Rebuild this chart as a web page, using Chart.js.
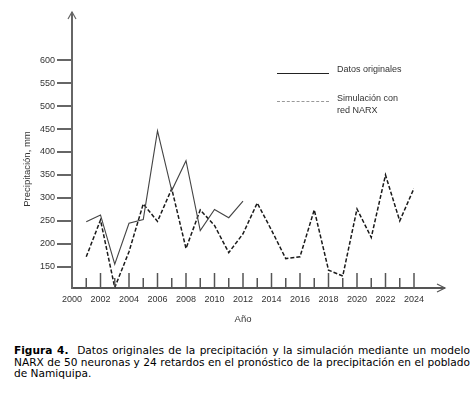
<!DOCTYPE html>
<html>
<head>
<meta charset="utf-8">
<script src="https://cdn.jsdelivr.net/npm/chart.js@4/dist/chart.umd.min.js"></script>
<style>
  body { margin: 0; background: #fff; }
  #wrap { position: relative; width: 474px; height: 395px; }
  #box { position: absolute; left: 0; top: 0; width: 474px; height: 330px; }
  .leg { position: absolute; font: 9px "Liberation Sans", Arial, sans-serif; color: #333; line-height: 11.5px; }
  .sample { position: absolute; width: 52px; height: 0; }
  #caption { position: absolute; left: 14px; top: 345px; width: 456px;
    font: 10.6px "DejaVu Sans", sans-serif; line-height: 11.7px; color: #000; }
  #caption div.j { text-align: justify; text-align-last: justify; white-space: nowrap; }
</style>
</head>
<body>
<div id="wrap">
  <div id="box"><canvas id="precipChart"></canvas></div>
  <div class="sample" style="left:277px; top:73px; border-top:1px solid #222;"></div>
  <div class="leg" id="leg1" style="left:337px; top:64px;"></div>
  <div class="sample" style="left:277px; top:101px; border-top:1px dashed #999;"></div>
  <div class="leg" id="leg2" style="left:337px; top:93px;"></div>
  <div id="caption">
    <div class="j"><b>Figura 4.</b>&nbsp; Datos originales de la precipitación y la simulación mediante un modelo</div>
    <div class="j">NARX de 50 neuronas y 24 retardos en el pronóstico de la precipitación en el poblado</div>
    <div>de Namiquipa.</div>
  </div>
</div>
<script>
// years and values
const years = [2001, 2002, 2003, 2004, 2005, 2006, 2007, 2008, 2009, 2010, 2011, 2012,
               2013, 2014, 2015, 2016, 2017, 2018, 2019, 2020, 2021, 2022, 2023, 2024];
const original = [248, 263, 156, 245, 253, 446, 316, 381, 229, 275, 257, 293];
const narx = [172, 252, 105, 183, 287, 249, 320, 190, 274, 240, 181, 222,
              289, 230, 168, 172, 274, 143, 130, 276, 214, 350, 250, 321];
const yTicks = [150, 200, 250, 300, 350, 400, 450, 500, 550, 600];
const xTicks = [2000, 2002, 2004, 2006, 2008, 2010, 2012, 2014, 2016, 2018, 2020, 2022, 2024];
const seriesNames = ['Datos originales', 'Simulación con\nred NARX'];

document.getElementById('leg1').innerText = seriesNames[0];
document.getElementById('leg2').innerText = seriesNames[1];

Chart.defaults.font.family = '"Liberation Sans", Arial, sans-serif';
Chart.defaults.color = '#333';

// axis arrows and the small inward year marks
const axisDecor = {
  id: 'axisDecor',
  afterDraw(chart) {
    const {ctx, chartArea, scales: {x}} = chart;
    const left = chartArea.left, bottom = chartArea.bottom;
    ctx.save();
    ctx.strokeStyle = '#666';
    ctx.lineWidth = 2;
    ctx.beginPath();
    ctx.moveTo(left, chartArea.top);
    ctx.lineTo(left, chartArea.top - 38);
    ctx.stroke();
    ctx.lineWidth = 1.2;
    ctx.beginPath();
    ctx.moveTo(left - 4, chartArea.top - 31);
    ctx.lineTo(left, chartArea.top - 38);
    ctx.lineTo(left + 4, chartArea.top - 31);
    ctx.stroke();

    ctx.strokeStyle = '#555';
    ctx.lineWidth = 2;
    ctx.beginPath();
    ctx.moveTo(chartArea.right, bottom);
    ctx.lineTo(chartArea.right + 31, bottom);
    ctx.stroke();
    ctx.lineWidth = 1.2;
    ctx.beginPath();
    ctx.moveTo(chartArea.right + 23, bottom - 4);
    ctx.lineTo(chartArea.right + 31, bottom);
    ctx.lineTo(chartArea.right + 23, bottom + 4);
    ctx.stroke();

    ctx.lineWidth = 1.5;
    for (let yr = x.min + 1; yr <= x.max; yr++) {
      const px = x.getPixelForValue(yr);
      const h = yr % 2 === 0 ? 15 : 10;
      ctx.beginPath();
      ctx.moveTo(px, bottom);
      ctx.lineTo(px, bottom - h);
      ctx.stroke();
    }
    ctx.restore();
  }
};

const ctx = document.getElementById('precipChart').getContext('2d');
new Chart(ctx, {
  type: 'line',
  data: {
    datasets: [{
      label: seriesNames[0],
      data: original.map((v, i) => ({x: years[i], y: v})),
      borderColor: '#444',
      borderWidth: 1.1,
      pointRadius: 0,
      tension: 0
    }, {
      label: seriesNames[1],
      data: narx.map((v, i) => ({x: years[i], y: v})),
      borderColor: '#1a1a1a',
      borderWidth: 1.5,
      borderDash: [4, 2],
      pointRadius: 0,
      tension: 0
    }]
  },
  options: {
    responsive: true,
    maintainAspectRatio: false,
    animation: false,
    layout: { padding: { left: 0, top: 50, right: 60, bottom: 0 } },
    plugins: { legend: { display: false }, tooltip: { enabled: false } },
    scales: {
      x: {
        type: 'linear',
        min: 2000,
        max: 2024,
        afterBuildTicks: axis => { axis.ticks = xTicks.map(v => ({value: v})); },
        afterFit: axis => { axis.height = 42; },
        grid: { display: false, drawTicks: false },
        border: { display: true, color: '#555', width: 2 },
        ticks: { font: { size: 9 }, padding: 6, maxRotation: 0, autoSkip: false, callback: v => String(v) },
        title: { display: true, text: 'Año', font: { size: 9.5 }, padding: { top: 0, bottom: 5 } }
      },
      y: {
        min: 104,
        max: 622,
        afterBuildTicks: axis => { axis.ticks = yTicks.map(v => ({value: v})); },
        afterFit: axis => { axis.width = 72; },
        grid: { display: true, drawOnChartArea: false, drawTicks: true, tickLength: 15, color: '#666', lineWidth: 2 },
        border: { display: true, color: '#666', width: 2 },
        ticks: { font: { size: 9 }, padding: 2 },
        title: { display: true, text: 'Precipitación, mm', font: { size: 9.5 }, padding: { top: 22, bottom: 0 } }
      }
    }
  },
  plugins: [axisDecor]
});
</script>
</body>
</html>
